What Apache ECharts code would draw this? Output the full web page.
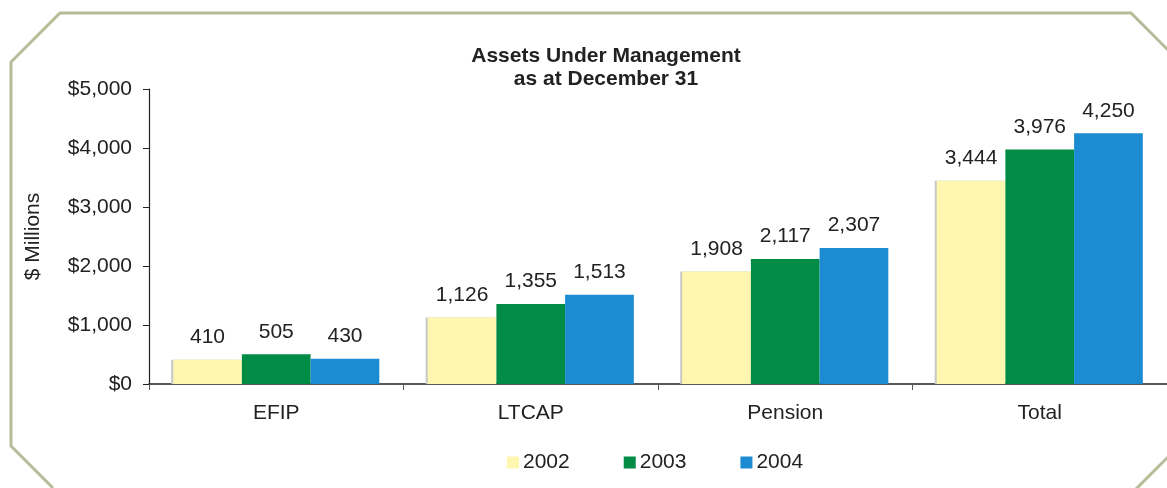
<!DOCTYPE html>
<html>
<head>
<meta charset="utf-8">
<script src="https://cdn.jsdelivr.net/npm/echarts@6/dist/echarts.min.js"></script>
<style>
  html, body { margin: 0; padding: 0; background: #fff; }
  #chart { width: 1167px; height: 488px; }
</style>
</head>
<body>
<div id="chart"></div>
<script>
const categories = ['EFIP', 'LTCAP', 'Pension', 'Total']
const years = ['2002', '2003', '2004']
const values2002 = [410, 1126, 1908, 3444]
const values2003 = [505, 1355, 2117, 3976]
const values2004 = [430, 1513, 2307, 4250]
const yTicks = [0, 1000, 2000, 3000, 4000, 5000]

const colors = ['#FFF6B0', '#008C44', '#1C8BD1']
const font = 'Liberation Sans, Arial, sans-serif'

const fmt = v => v.toLocaleString('en-US')

function makeSeries (name, data, i) {
  let s = {
    name: name,
    type: 'bar',
    data: data,
    barGap: 0,
    barCategoryGap: '19%',
    itemStyle: { color: colors[i] },
    label: {
      show: true,
      position: 'top',
      distance: 12,
      color: '#222',
      fontFamily: font,
      fontSize: 21,
      formatter: p => fmt(p.value),
    },
  }
  if (i === 0) {
    // grey edge on the left of the pale bars
    s.itemStyle.shadowColor = '#c8c8c8'
    s.itemStyle.shadowOffsetX = -2
    s.itemStyle.shadowBlur = 0
  }
  return s
}

let chart = echarts.init(document.getElementById('chart'))
let option = {
  animation: false,
  title: {
    text: 'Assets Under Management\nas at December 31',
    left: 601,
    textAlign: 'center',
    top: 40,
    textStyle: {
      fontFamily: font,
      fontSize: 21,
      fontWeight: 'bold',
      color: '#222',
      lineHeight: 23,
    },
  },
  legend: {
    data: years,
    left: 502,
    top: 447,
    itemWidth: 12,
    itemHeight: 12,
    itemGap: 54,
    icon: 'rect',
    textStyle: { fontFamily: font, fontSize: 21, color: '#222', padding: [0, 0, 0, -1] },
  },
  grid: { left: 149, right: 0, top: 89, bottom: 104, containLabel: false },
  xAxis: {
    type: 'category',
    data: categories,
    axisLine: { lineStyle: { color: '#222', width: 1.5 } },
    axisTick: { show: true, length: 6, lineStyle: { color: '#555' } },
    axisLabel: { color: '#222', fontFamily: font, fontSize: 21, margin: 19 },
  },
  yAxis: {
    type: 'value',
    min: yTicks[0],
    max: yTicks[yTicks.length - 1],
    interval: 1000,
    name: '$ Millions',
    nameLocation: 'middle',
    nameGap: 105,
    nameTextStyle: { fontFamily: font, fontSize: 21, color: '#222' },
    splitLine: { show: false },
    axisLine: { show: true, lineStyle: { color: '#222', width: 1.2 } },
    axisTick: { show: true, length: 6, lineStyle: { color: '#222' } },
    axisLabel: {
      color: '#222',
      fontFamily: font,
      fontSize: 21,
      margin: 17,
      formatter: v => '$' + fmt(v),
    },
  },
  graphic: [
    {
      type: 'polyline',
      silent: true,
      shape: { points: [[1180, 62], [1131, 13], [60, 13], [11, 62], [11, 446], [53, 488]] },
      style: { stroke: '#B4BC98', lineWidth: 3, fill: null },
    },
    {
      type: 'polyline',
      silent: true,
      shape: { points: [[1124, 501], [1180, 445]] },
      style: { stroke: '#B4BC98', lineWidth: 3, fill: null },
    },
  ],
  series: [
    makeSeries(years[0], values2002, 0),
    makeSeries(years[1], values2003, 1),
    makeSeries(years[2], values2004, 2),
  ],
}
chart.setOption(option)
</script>
</body>
</html>
